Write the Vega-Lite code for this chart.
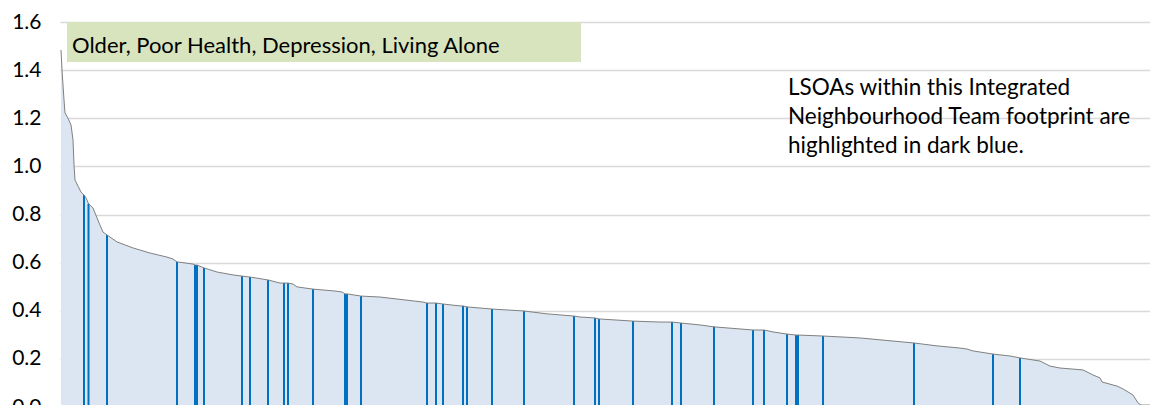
{
  "$schema": "https://vega.github.io/schema/vega-lite/v6.json",
  "width": 1090,
  "height": 385,
  "autosize": {"type": "none"},
  "padding": {"left": 60, "top": 22, "right": 0, "bottom": 0},
  "background": "white",
  "config": {"view": {"stroke": null}, "font": "Lato"},
  "datasets": {
    "curve": [
      {"rank": 1, "value": 1.484, "team": false},
      {"rank": 2, "value": 1.40, "team": false},
      {"rank": 4, "value": 1.276, "team": false},
      {"rank": 5, "value": 1.222, "team": false},
      {"rank": 8, "value": 1.20, "team": false},
      {"rank": 11, "value": 1.172, "team": false},
      {"rank": 13, "value": 1.11, "team": false},
      {"rank": 14, "value": 1.006, "team": false},
      {"rank": 15, "value": 0.943, "team": false},
      {"rank": 18, "value": 0.918, "team": false},
      {"rank": 21, "value": 0.893, "team": false},
      {"rank": 24, "value": 0.881, "team": true},
      {"rank": 26, "value": 0.869, "team": false},
      {"rank": 28.5, "value": 0.845, "team": true},
      {"rank": 33, "value": 0.827, "team": false},
      {"rank": 37, "value": 0.786, "team": false},
      {"rank": 40, "value": 0.756, "team": false},
      {"rank": 43, "value": 0.727, "team": false},
      {"rank": 47, "value": 0.715, "team": true},
      {"rank": 57, "value": 0.686, "team": false},
      {"rank": 73, "value": 0.661, "team": false},
      {"rank": 90, "value": 0.640, "team": false},
      {"rank": 107, "value": 0.623, "team": false},
      {"rank": 113, "value": 0.615, "team": false},
      {"rank": 117, "value": 0.603, "team": true},
      {"rank": 126, "value": 0.598, "team": false},
      {"rank": 133, "value": 0.594, "team": false},
      {"rank": 135, "value": 0.590, "team": true},
      {"rank": 137, "value": 0.590, "team": true},
      {"rank": 144, "value": 0.578, "team": true},
      {"rank": 157, "value": 0.561, "team": false},
      {"rank": 173, "value": 0.549, "team": false},
      {"rank": 182, "value": 0.544, "team": true},
      {"rank": 190, "value": 0.540, "team": true},
      {"rank": 208, "value": 0.528, "team": true},
      {"rank": 220, "value": 0.515, "team": false},
      {"rank": 224, "value": 0.515, "team": true},
      {"rank": 228, "value": 0.515, "team": true},
      {"rank": 233, "value": 0.511, "team": false},
      {"rank": 237, "value": 0.499, "team": false},
      {"rank": 253, "value": 0.490, "team": true},
      {"rank": 275, "value": 0.482, "team": false},
      {"rank": 282, "value": 0.478, "team": false},
      {"rank": 285, "value": 0.470, "team": true},
      {"rank": 287, "value": 0.470, "team": true},
      {"rank": 301, "value": 0.461, "team": true},
      {"rank": 320, "value": 0.457, "team": false},
      {"rank": 353, "value": 0.441, "team": false},
      {"rank": 363, "value": 0.436, "team": false},
      {"rank": 367, "value": 0.432, "team": true},
      {"rank": 376, "value": 0.432, "team": true},
      {"rank": 383, "value": 0.428, "team": true},
      {"rank": 400, "value": 0.420, "team": false},
      {"rank": 403, "value": 0.420, "team": true},
      {"rank": 407, "value": 0.416, "team": true},
      {"rank": 432, "value": 0.407, "team": true},
      {"rank": 464, "value": 0.399, "team": true},
      {"rank": 487, "value": 0.387, "team": false},
      {"rank": 514, "value": 0.378, "team": true},
      {"rank": 520, "value": 0.374, "team": false},
      {"rank": 535, "value": 0.370, "team": true},
      {"rank": 539, "value": 0.366, "team": true},
      {"rank": 573, "value": 0.357, "team": true},
      {"rank": 600, "value": 0.353, "team": false},
      {"rank": 612, "value": 0.353, "team": true},
      {"rank": 621, "value": 0.349, "team": true},
      {"rank": 640, "value": 0.341, "team": false},
      {"rank": 654, "value": 0.333, "team": true},
      {"rank": 693, "value": 0.320, "team": true},
      {"rank": 704, "value": 0.320, "team": true},
      {"rank": 713, "value": 0.312, "team": false},
      {"rank": 727, "value": 0.303, "team": true},
      {"rank": 736, "value": 0.299, "team": true},
      {"rank": 738, "value": 0.299, "team": true},
      {"rank": 763, "value": 0.295, "team": true},
      {"rank": 800, "value": 0.287, "team": false},
      {"rank": 823, "value": 0.278, "team": false},
      {"rank": 854, "value": 0.266, "team": true},
      {"rank": 877, "value": 0.254, "team": false},
      {"rank": 900, "value": 0.245, "team": false},
      {"rank": 907, "value": 0.241, "team": false},
      {"rank": 913, "value": 0.233, "team": false},
      {"rank": 933, "value": 0.220, "team": true},
      {"rank": 950, "value": 0.212, "team": false},
      {"rank": 960, "value": 0.204, "team": true},
      {"rank": 980, "value": 0.191, "team": false},
      {"rank": 990, "value": 0.170, "team": false},
      {"rank": 1000, "value": 0.162, "team": false},
      {"rank": 1023, "value": 0.154, "team": false},
      {"rank": 1033, "value": 0.133, "team": false},
      {"rank": 1040, "value": 0.121, "team": false},
      {"rank": 1042, "value": 0.104, "team": false},
      {"rank": 1057, "value": 0.087, "team": false},
      {"rank": 1063, "value": 0.075, "team": false},
      {"rank": 1073, "value": 0.050, "team": false},
      {"rank": 1078, "value": 0.017, "team": false},
      {"rank": 1081, "value": 0.008, "team": false},
      {"rank": 1090, "value": 0.008, "team": false}
    ],
    "labels": [
      {"title": "Older, Poor Health, Depression, Living Alone", "note": "LSOAs within this Integrated\nNeighbourhood Team footprint are\nhighlighted in dark blue."}
    ]
  },
  "resolve": {"scale": {"x": "shared", "y": "shared"}},
  "layer": [
    {
      "data": {"name": "curve"},
      "mark": {"type": "area", "color": "#DCE6F2", "opacity": 1},
      "encoding": {
        "x": {"field": "rank", "type": "quantitative", "scale": {"domain": [0, 1090], "nice": false, "zero": false}, "axis": null},
        "y": {
          "field": "value", "type": "quantitative",
          "scale": {"domain": [0, 1.6], "nice": false},
          "axis": {
            "title": null, "domain": false, "ticks": false,
            "values": [0, 0.2, 0.4, 0.6, 0.8, 1.0, 1.2, 1.4, 1.6],
            "format": ".1f", "labelFontSize": 21, "labelColor": "#000000",
            "labelPadding": 19, "labelFont": "Lato",
            "gridColor": "#D9D9D9", "gridWidth": 1.5
          }
        }
      }
    },
    {
      "data": {"name": "curve"},
      "transform": [{"filter": "datum.team"}],
      "mark": {"type": "rule", "color": "#0070C0", "strokeWidth": 2},
      "encoding": {
        "x": {"field": "rank", "type": "quantitative"},
        "y": {"field": "value", "type": "quantitative"},
        "y2": {"datum": 0}
      }
    },
    {
      "data": {"name": "curve"},
      "mark": {"type": "line", "color": "#808080", "strokeWidth": 1},
      "encoding": {
        "x": {"field": "rank", "type": "quantitative"},
        "y": {"field": "value", "type": "quantitative"}
      }
    },
    {
      "data": {"name": "labels"},
      "mark": {"type": "rect", "color": "#D7E4BD"},
      "encoding": {
        "x": {"datum": 7, "type": "quantitative"},
        "x2": {"datum": 521},
        "y": {"datum": 1.6, "type": "quantitative"},
        "y2": {"datum": 1.434}
      }
    },
    {
      "data": {"name": "labels"},
      "mark": {"type": "text", "align": "left", "baseline": "middle", "fontSize": 22, "font": "Lato", "color": "#000000"},
      "encoding": {
        "x": {"datum": 12, "type": "quantitative"},
        "y": {"datum": 1.5, "type": "quantitative"},
        "text": {"field": "title"}
      }
    },
    {
      "data": {"name": "labels"},
      "mark": {"type": "text", "align": "left", "baseline": "middle", "fontSize": 22.5, "font": "Lato", "color": "#000000", "lineBreak": "\n", "lineHeight": 29},
      "encoding": {
        "x": {"datum": 728, "type": "quantitative"},
        "y": {"datum": 1.326, "type": "quantitative"},
        "text": {"field": "note"}
      }
    }
  ]
}
